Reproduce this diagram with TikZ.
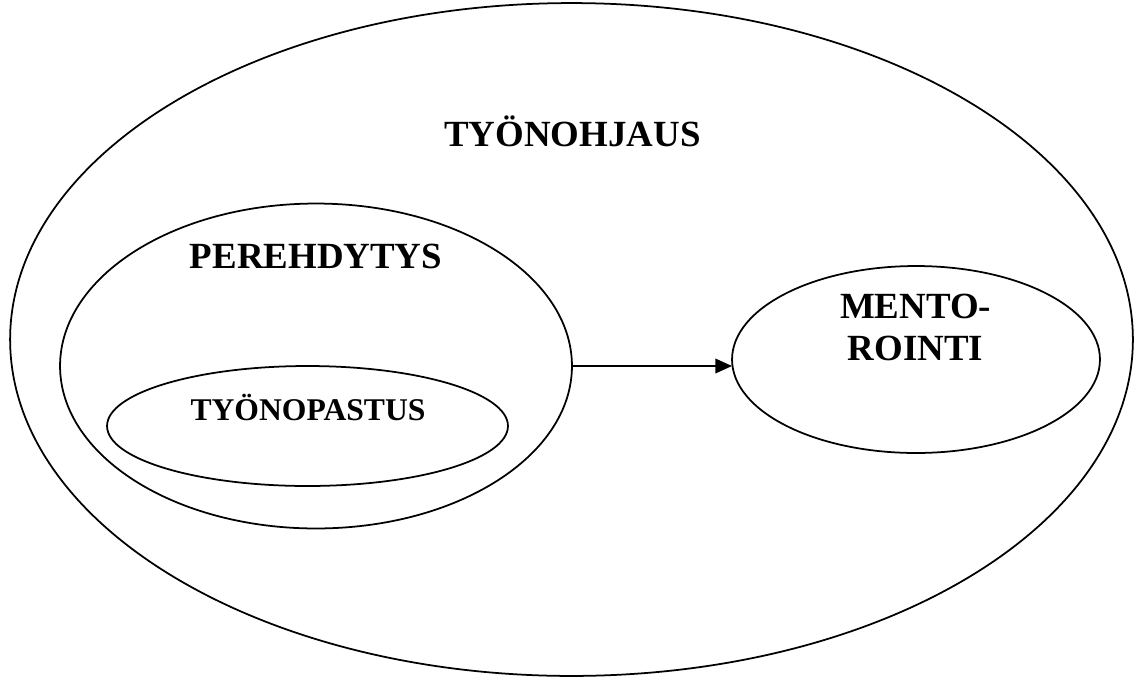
\documentclass[tikz,border=0pt]{standalone}
\usepackage{fontspec}
\setmainfont{Liberation Serif}
\usepackage{tikz}
\usetikzlibrary{shapes.geometric, arrows.meta, positioning}

\begin{document}
\begin{tikzpicture}[x=0.02cm, y=-0.02cm,
    oval/.style={draw, ellipse, line width=1pt, inner sep=0pt, outer sep=0pt},
    title/.style={font=\fontsize{21}{24.4}\selectfont\bfseries, inner sep=0pt, align=center}]
    \useasboundingbox (0,0) rectangle (1139,680);

    % Ellipses
    \node[oval, minimum width=22.46cm, minimum height=13.46cm] (ohjaus) at (571.5, 339.5) {};
    \node[oval, minimum width=10.24cm, minimum height=6.5cm] (pere) at (316, 366) {};
    \node[oval, minimum width=8.02cm, minimum height=2.4cm] (opastus) at (307.5, 426) {};
    \node[oval, minimum width=7.36cm, minimum height=3.74cm] (mento) at (916, 359.5) {};

    % Arrow
    \draw[line width=1pt, -{Triangle[length=9.5pt, width=8.3pt]}] (pere.east) -- (pere.east -| mento.west);

    % Texts
    \node[title, anchor=base] (ohjausText) at (572.5, 146) {TYÖNOHJAUS};
    \node[title, anchor=base] (pereText) at (316, 268) {PEREHDYTYS};
    \node[title, anchor=base, font=\fontsize{18}{21}\selectfont\bfseries] (opastusText) at (308, 420) {TYÖNOPASTUS};
    \node[title] (mentoText) at (915.5, 327.5) {MENTO-\\ROINTI};
\end{tikzpicture}
\end{document}
